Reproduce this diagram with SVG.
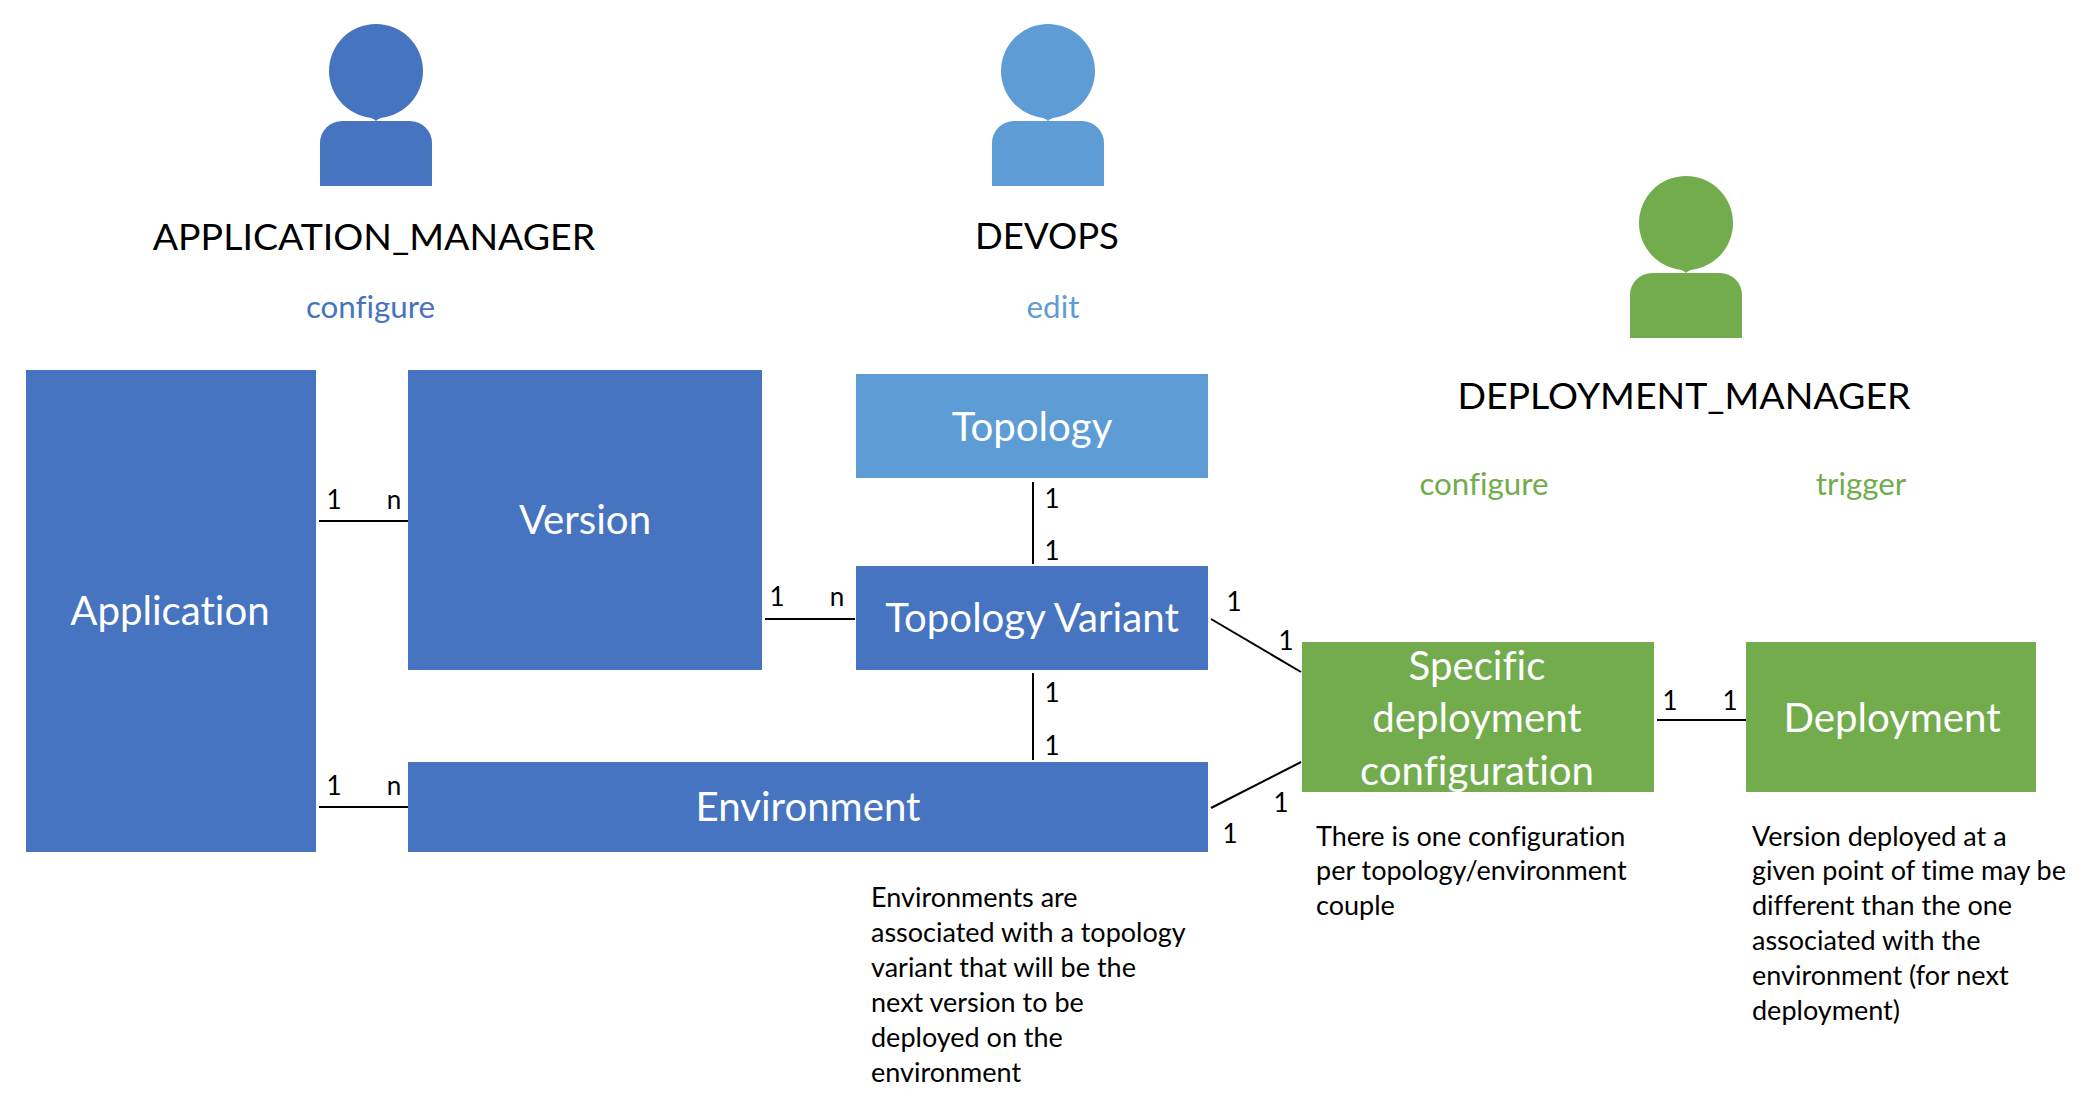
<svg xmlns="http://www.w3.org/2000/svg" width="2096" height="1108" viewBox="0 0 2096 1108">
<style>
text{font-family:"Lato","Carlito","Open Sans",sans-serif;font-variant-ligatures:none}
.box{stroke:none}
.b{fill:#4674c1}.l{fill:#5e9cd5}.g{fill:#72ac4d}
.t{fill:#fff;font-size:40.2px;text-anchor:middle}
.h{fill:#000;font-size:37.5px;text-anchor:middle}
.s{font-size:31.3px;text-anchor:middle}
.n{fill:#000;font-size:27px}
.c{fill:#000;font-size:26px;text-anchor:middle}
#connectors line{stroke:#000;stroke-width:2;fill:none}
</style>
<defs>
<g id="person"><circle cx="0" cy="71" r="47"/><path d="M-9 116.500Q-3 118 0 121Q3 118 9 116.500Z"/><path d="M-56 186V143a22 22 0 0 1 22-22H34a22 22 0 0 1 22 22V186Z"/></g>
</defs>
<rect width="2096" height="1108" fill="#fff"/>
<g id="actor-application-manager"><use href="#person" x="376" class="b"/><text class="h" x="374" y="250">APPLICATION_MANAGER</text><text class="s" x="370.500" y="318" fill="#4674c1">configure</text></g>
<g id="actor-devops"><use href="#person" x="1048" class="l"/><text class="h" style="font-size:36.500px" x="1047" y="249">DEVOPS</text><text class="s" x="1053" y="318" fill="#5e9cd5">edit</text></g>
<g id="actor-deployment-manager"><use href="#person" x="1686" y="152" class="g"/><text class="h" x="1684" y="409">DEPLOYMENT_MANAGER</text><text class="s" x="1484" y="495" fill="#72ac4d">configure</text><text class="s" x="1861" y="495" fill="#72ac4d">trigger</text></g>
<g id="node-application"><rect class="box b" x="26" y="370" width="290" height="482"/><text class="t" x="170" y="625">Application</text></g>
<g id="node-version"><rect class="box b" x="408" y="370" width="354" height="300"/><text class="t" x="585" y="534">Version</text></g>
<g id="node-topology"><rect class="box l" x="856" y="374" width="352" height="104"/><text class="t" x="1032" y="441">Topology</text></g>
<g id="node-topology-variant"><rect class="box b" x="856" y="566" width="352" height="104"/><text class="t" x="1032" y="632">Topology Variant</text></g>
<g id="node-environment"><rect class="box b" x="408" y="762" width="800" height="90"/><text class="t" x="808" y="821">Environment</text></g>
<g id="node-specific-deployment-configuration"><rect class="box g" x="1302" y="642" width="352" height="150"/><text class="t" x="1477" y="680">Specific</text><text class="t" x="1477" y="732">deployment</text><text class="t" x="1477" y="785">configuration</text></g>
<g id="node-deployment"><rect class="box g" x="1746" y="642" width="290" height="150"/><text class="t" x="1892" y="732">Deployment</text></g>
<g id="connectors">
<line x1="319" y1="521" x2="408" y2="521"/>
<line x1="319" y1="807" x2="408" y2="807"/>
<line x1="765" y1="619" x2="855" y2="619"/>
<line x1="1033" y1="482" x2="1033" y2="564"/>
<line x1="1033" y1="673" x2="1033" y2="760"/>
<line x1="1211" y1="619" x2="1301" y2="672"/>
<line x1="1211" y1="808" x2="1301" y2="762"/>
<line x1="1657" y1="720" x2="1746" y2="720"/>
</g>
<g id="cardinalities">
<text class="c" x="334" y="509">1</text><text class="c" x="394" y="509">n</text>
<text class="c" x="334" y="795">1</text><text class="c" x="394" y="795">n</text>
<text class="c" x="777" y="606">1</text><text class="c" x="837" y="606">n</text>
<text class="c" x="1052" y="508">1</text><text class="c" x="1052" y="560">1</text>
<text class="c" x="1052" y="702">1</text><text class="c" x="1052" y="755">1</text>
<text class="c" x="1234" y="611">1</text><text class="c" x="1286" y="650">1</text>
<text class="c" x="1230" y="843">1</text><text class="c" x="1281" y="812">1</text>
<text class="c" x="1670" y="710">1</text><text class="c" x="1730" y="710">1</text>
</g>
<g id="notes" class="n">
<text x="871" y="907">Environments are</text><text x="871" y="942">associated with a topology</text><text x="871" y="977">variant that will be the</text><text x="871" y="1012">next version to be</text><text x="871" y="1047">deployed on the</text><text x="871" y="1082">environment</text>
<text x="1316" y="846">There is one configuration</text><text x="1316" y="880">per topology/environment</text><text x="1316" y="915">couple</text>
<text x="1752" y="846">Version deployed at a</text><text x="1752" y="880">given point of time may be</text><text x="1752" y="915">different than the one</text><text x="1752" y="950">associated with the</text><text x="1752" y="985">environment (for next</text><text x="1752" y="1020">deployment)</text>
</g>
</svg>
